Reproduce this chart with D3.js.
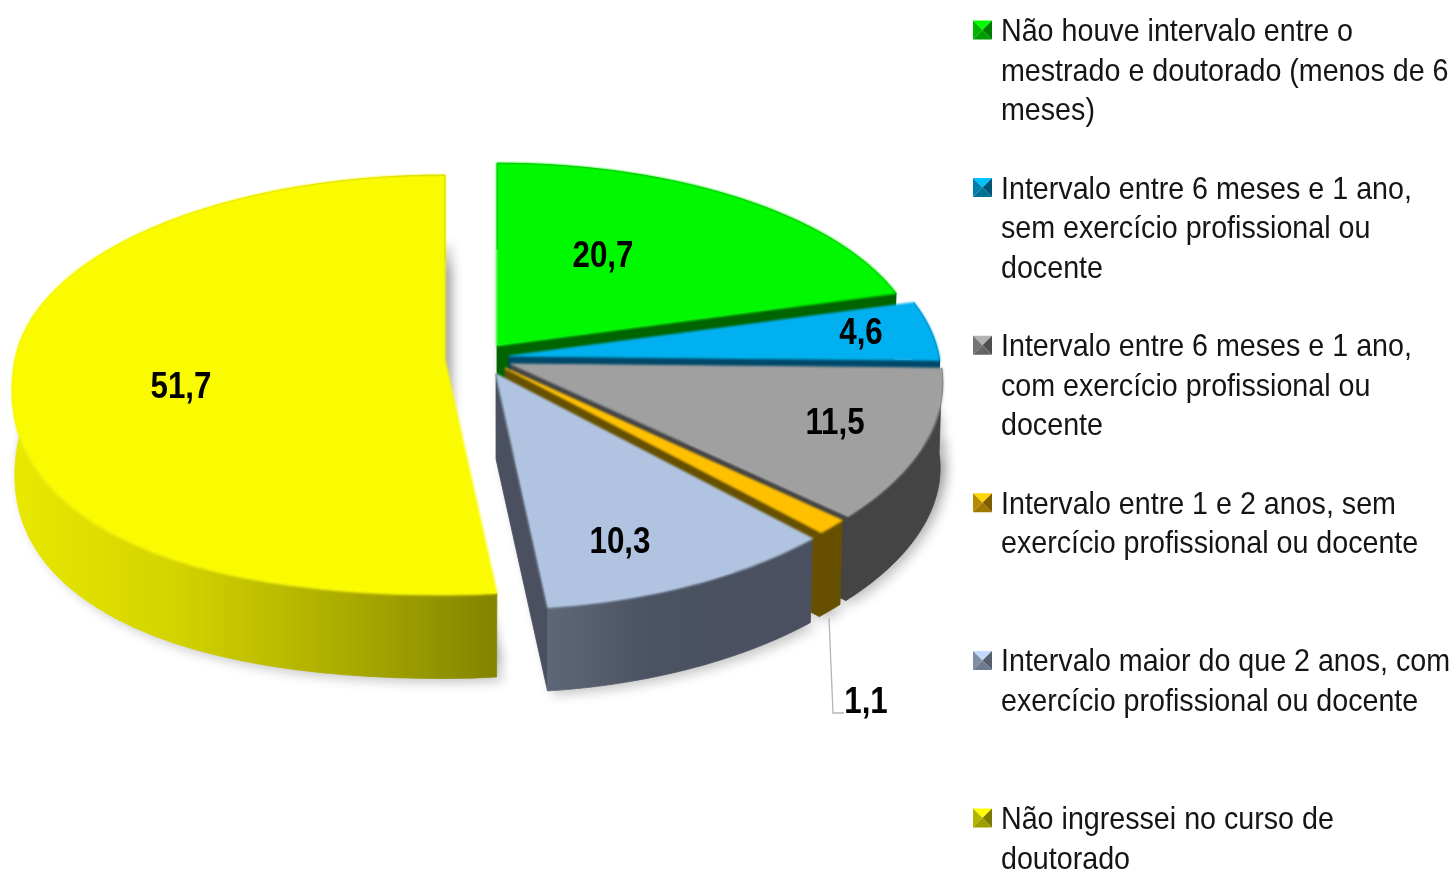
<!DOCTYPE html>
<html><head><meta charset="utf-8">
<script src="https://cdn.jsdelivr.net/npm/d3@7"></script>
<style>html,body{margin:0;background:#fff;overflow:hidden}svg{display:block;filter:blur(.45px)}
text{font-family:"Liberation Sans",Arial,sans-serif;fill:#000}
.leg{font-size:30.5px;fill:#151515}.lab{font-size:36px;font-weight:700}</style>
</head><body><svg id="c" width="1454" height="869"></svg>
<script>
const categories=["Não houve intervalo entre o|mestrado e doutorado (menos de 6|meses)",
"Intervalo entre 6 meses e 1 ano,|sem exercício profissional ou|docente",
"Intervalo entre 6 meses e 1 ano,|com exercício profissional ou|docente",
"Intervalo entre 1 e 2 anos, sem|exercício profissional ou docente",
"Intervalo maior do que 2 anos, com|exercício profissional ou docente",
"Não ingressei no curso de|doutorado"];
const values=[20.7,4.6,11.5,1.1,10.3,51.7];
const valueLabels=["20,7","4,6","11,5","1,1","10,3","51,7"];
const topColors=["#00f800","#00b0f0","#a0a0a0","#ffc000","#b0c4e2","#fafa00"];
const wallColors=["#006400","#00486a","#444444","#665000","#4a5060","#8a8a00"];

// layout of the exploded perspective disc
const R=430,Ry=207,K=0.119,KX=0.09,DEPTH=85,SHRINK=0.994;
const centers=[[497,345.7],[509,356],[511,364],[505,368],[496,374],[445,360]];
const radiusScale=[0.985,1,1,1,1,1];
const labelPos=[[603,254],[861,331],[835,421],[866,700],[620,540],[181,385]];
const labelSX=0.87,legendSX=0.94;

const svg=d3.select("#c"),defs=svg.append("defs");
const pie=d3.pie().sort(null).value(d=>d).startAngle(0).endAngle(2*Math.PI);
const arcs=pie(values);

function proj(i,t,bottom){
  const c=centers[i];
  // the lower-left quadrant of the large slice is fuller than a true ellipse
  const q=(i===5&&t>Math.PI&&t<1.5*Math.PI)?Math.pow(Math.sin(2*t),2)*0.05:0;
  const r=radiusScale[i]*(1+q);
  const u=Math.sin(t)*r,v=-Math.cos(t)*r,w=1-K*v,wx=1-KX*v,s=bottom?SHRINK:1;
  return [c[0]+s*R*u/wx, c[1]+(bottom?DEPTH:0)+s*Ry*v/w];
}
const line=d3.line();
const samples=(a,b)=>d3.range(0,61).map(i=>a+(b-a)*i/60);
const rim=(i,a,b,bottom)=>samples(a,b).map(t=>proj(i,t,bottom));
const topPath=(i,d)=>line([centers[i].slice(),...rim(i,d.startAngle,d.endAngle,false)])+"Z";
const botPath=(i,d)=>line([[centers[i][0],centers[i][1]+DEPTH],...rim(i,d.startAngle,d.endAngle,true)])+"Z";
const outerWall=(i,d)=>line([...rim(i,d.startAngle,d.endAngle,false),...rim(i,d.startAngle,d.endAngle,true).reverse()])+"Z";
const radialWall=(i,t)=>line([centers[i],proj(i,t,false),proj(i,t,true),[centers[i][0],centers[i][1]+DEPTH]])+"Z";

// filters and gradients
const f=defs.append("filter").attr("id","shadow").attr("x","-10%").attr("y","-10%").attr("width","120%").attr("height","120%");
f.append("feGaussianBlur").attr("stdDeviation",6);
const g=defs.append("filter").attr("id","soft").attr("x","-5%").attr("y","-5%").attr("width","110%").attr("height","110%");
g.append("feGaussianBlur").attr("stdDeviation",0.9);
function grad(id,x1,x2,stops){
  const l=defs.append("linearGradient").attr("id",id).attr("gradientUnits","userSpaceOnUse")
    .attr("x1",x1).attr("x2",x2).attr("y1",0).attr("y2",0);
  stops.forEach(s=>l.append("stop").attr("offset",s[0]).attr("stop-color",s[1]));
  return `url(#${id})`;
}
const wallFill=wallColors.slice();
wallFill[5]=grad("gy",15,491,[[0,"#e8e800"],[0.35,"#d2d200"],[0.7,"#aaaa00"],[1,"#858500"]]);
wallFill[4]=grad("gb",545,812,[[0,"#5f6878"],[0.4,"#4b5262"],[1,"#4a5060"]]);

// shadow under everything
[[6,4],[6,-14]].forEach(o=>{
  const shadow=svg.append("g").attr("opacity",0.28).attr("filter","url(#shadow)").attr("transform",`translate(${o[0]},${o[1]})`);
  arcs.forEach((d,i)=>shadow.append("path").attr("d",botPath(i,d)).attr("fill","#333"));
});

// slices back to front
[5,0,1,2,3,4].forEach(i=>{
  const d=arcs[i],s=svg.append("g");
  if(i!==5){
    s.append("path").attr("d",radialWall(i,d.endAngle)).attr("fill",wallColors[i]).attr("stroke",wallColors[i]).attr("stroke-width",0.8);
  }
  s.append("path").attr("d",outerWall(i,d)).attr("fill",wallFill[i]).attr("stroke",wallFill[i]).attr("stroke-width",0.8);
  s.append("path").attr("d",topPath(i,d)).attr("fill",topColors[i]).attr("stroke",topColors[i]).attr("stroke-width",1.2).attr("filter","url(#soft)");
});

// leader line for the small slice
const leader=[[829,618],[833,713],[844,713]];
svg.append("path").attr("d",line(leader)).attr("fill","none").attr("stroke","#b5b5b5").attr("stroke-width",1.3);

// value labels
svg.selectAll("text.lab").data(valueLabels).join("text").attr("class","lab")
  .attr("text-anchor","middle")
  .attr("transform",(d,i)=>`translate(${labelPos[i][0]},${labelPos[i][1]+13}) scale(${labelSX},1)`)
  .text(d=>d);

// legend
const legendY=d3.scaleLinear().domain([0,5]).range([30,818]);
const legend=svg.append("g");
categories.forEach((cat,i)=>{
  const y=legendY(i),x0=973,x1=992,h=9.5,col=d3.color(topColors[i]),
    dark=col.darker(2.0),mid=col.darker(0.9),lite=col.brighter(0.3),cx=(x0+x1)/2;
  const tri=(pts,fill)=>legend.append("path").attr("d",line(pts)+"Z").attr("fill",fill);
  tri([[x0,y-h],[x1,y-h],[cx,y]],lite);
  tri([[x0,y-h],[x0,y+h],[cx,y]],mid);
  tri([[x1,y-h],[x1,y+h],[cx,y]],dark);
  tri([[x0,y+h],[x1,y+h],[cx,y]],col.darker(1.3));
  cat.split("|").forEach((t,j)=>{
    legend.append("text").attr("class","leg")
      .attr("transform",`translate(1001,${y+11+j*39.5}) scale(${legendSX},1)`).text(t);
  });
});
</script></body></html>
